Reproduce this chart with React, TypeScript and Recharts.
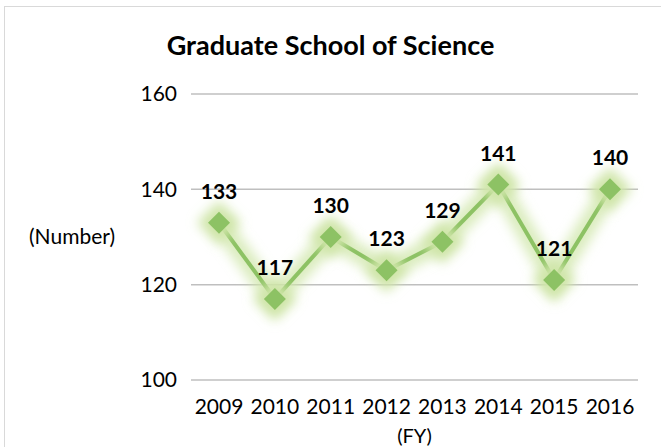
import { LineChart, Line, XAxis, YAxis, CartesianGrid, LabelList } from 'recharts';

const years = ['2009', '2010', '2011', '2012', '2013', '2014', '2015', '2016'];
const students = [133, 117, 130, 123, 129, 141, 121, 140];
const yTicks = [100, 120, 140, 160];

const chartData = years.map((year, i) => ({ year, value: students[i] }));

const FONT = 'Lato, "Open Sans", sans-serif';
const GREEN = '#8DC264';

function Diamond(props: any) {
  const { cx, cy, r = 11, fill = GREEN, filter } = props;
  if (cx == null || cy == null) return null;
  return (
    <path
      d={`M${cx},${cy - r} L${cx + r},${cy} L${cx},${cy + r} L${cx - r},${cy} Z`}
      fill={fill}
      filter={filter}
    />
  );
}

export default function App() {
  return (
    <div style={{ position: 'absolute', left: 0, top: 0, width: 661, height: 447, overflow: 'hidden', background: '#fff', fontFamily: FONT }}>
      <div style={{ position: 'absolute', left: 4, top: 6, width: 700, height: 500, border: '1.5px solid #D9D9D9', boxSizing: 'border-box' }} />
      <div style={{ position: 'absolute', left: 0, top: 29, width: 661, textAlign: 'center', fontSize: 27, lineHeight: '32px', fontWeight: 700, color: '#000' }}>
        Graduate School of Science
      </div>
      <LineChart
        width={661}
        height={447}
        data={chartData}
        margin={{ top: 94, right: 23, left: 0, bottom: 0 }}
        style={{ position: 'absolute', left: 0, top: 0 }}
      >
        <defs>
          <filter id="glow" x="-50%" y="-50%" width="200%" height="200%">
            <feGaussianBlur stdDeviation="6" />
          </filter>
        </defs>
        <CartesianGrid vertical={false} stroke="#BFBFBF" strokeWidth={1.5} />
        <XAxis
          dataKey="year"
          height={67}
          axisLine={false}
          tickLine={false}
          tickSize={0}
          tickMargin={19}
          padding={{ left: 28, right: 28 }}
          tick={{ fill: '#000', fontSize: 21, fontFamily: FONT }}
          label={{ value: '(FY)', position: 'insideBottom', offset: 4, fill: '#000', fontSize: 20, fontFamily: FONT }}
        />
        <YAxis
          width={191}
          domain={[100, 160]}
          ticks={yTicks}
          axisLine={false}
          tickLine={false}
          tickSize={0}
          tickMargin={14}
          tick={{ fill: '#000', fontSize: 21, fontFamily: FONT }}
          label={{ value: '(Number)', position: 'insideLeft', offset: 29, fill: '#000', fontSize: 21, fontFamily: FONT }}
        />
        <Line
          dataKey="value"
          stroke="#CFE5A8"
          strokeWidth={20}
          strokeOpacity={0.75}
          filter="url(#glow)"
          dot={(p: any) => <Diamond key={`g${p.index}`} cx={p.cx} cy={p.cy} r={22} fill="#CFE5A8" filter="url(#glow)" />}
          activeDot={false}
          isAnimationActive={false}
        />
        <Line
          dataKey="value"
          stroke={GREEN}
          strokeWidth={4}
          dot={(p: any) => <Diamond key={`d${p.index}`} cx={p.cx} cy={p.cy} r={11} />}
          activeDot={false}
          isAnimationActive={false}
        >
          <LabelList
            dataKey="value"
            position="top"
            offset={24}
            fill="#000"
            fontSize={21}
            fontWeight={700}
            fontFamily={FONT}
          />
        </Line>
      </LineChart>
    </div>
  );
}
